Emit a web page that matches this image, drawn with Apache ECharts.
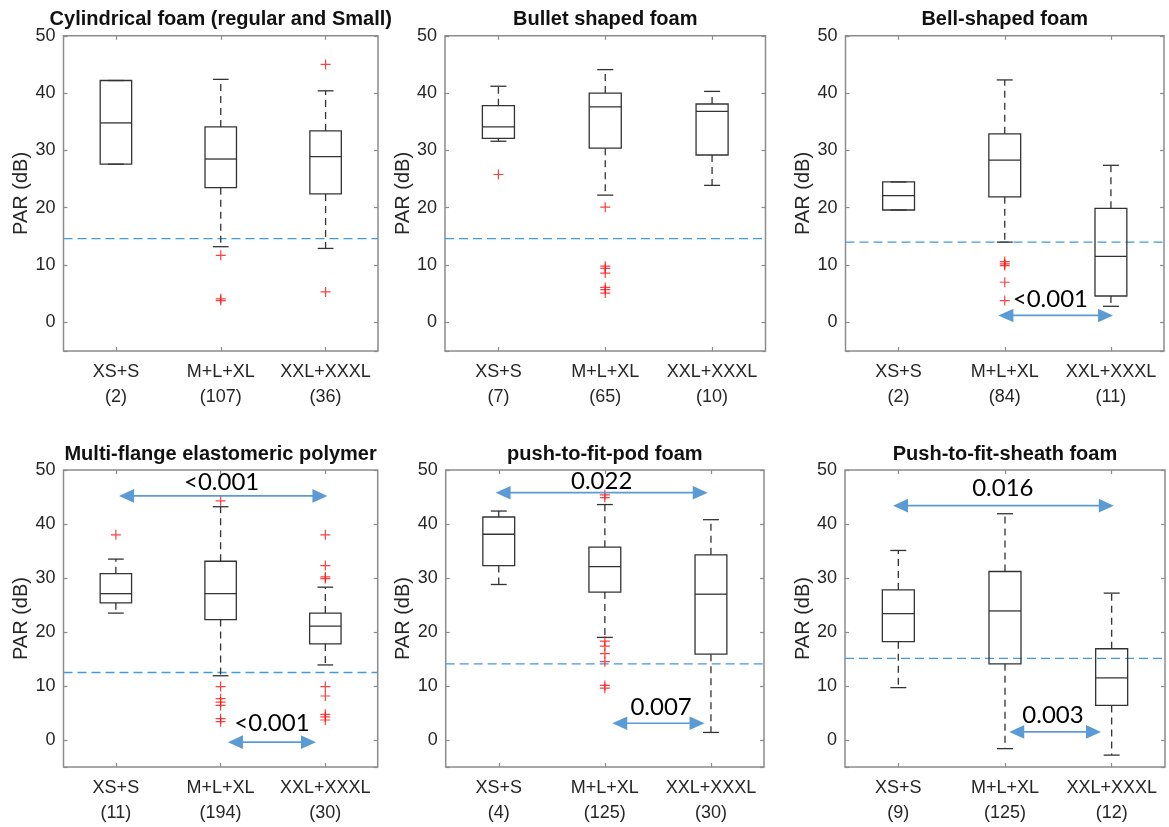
<!DOCTYPE html>
<html><head><meta charset="utf-8">
<script src="https://cdn.jsdelivr.net/npm/echarts@6/dist/echarts.min.js"></script>
<style>html,body{margin:0;padding:0;background:#fff}#c{width:1169px;height:827px}</style>
</head><body><div id="c"></div>
<script>
const categories = ['XS+S', 'M+L+XL', 'XXL+XXXL'];
const titles = ['Cylindrical foam (regular and Small)', 'Bullet shaped foam', 'Bell-shaped foam',
  'Multi-flange elastomeric polymer', 'push-to-fit-pod foam', 'Push-to-fit-sheath foam'];
const counts = [[2, 107, 36], [7, 65, 10], [2, 84, 11], [11, 194, 30], [4, 125, 30], [9, 125, 12]];

// [lower whisker, Q1, median, Q3, upper whisker] per category
const statsCyl = [[27.6, 27.6, 34.8, 42.2, 42.2], [13.2, 23.5, 28.5, 34.1, 42.4], [12.9, 22.4, 28.9, 33.4, 40.4]];
const statsBullet = [[31.6, 32.1, 34.1, 37.8, 41.2], [22.2, 30.4, 37.6, 40.0, 44.1], [23.9, 29.2, 36.8, 38.1, 40.3]];
const statsBell = [[19.6, 19.6, 22.1, 24.5, 24.5], [14.0, 21.9, 28.3, 32.9, 42.3], [2.8, 4.6, 11.5, 19.9, 27.4]];
const statsFlange = [[23.5, 25.4, 27.1, 30.8, 33.5], [11.9, 22.3, 27.1, 33.1, 43.2], [13.9, 17.8, 21.1, 23.5, 28.3]];
const statsPod = [[28.8, 32.3, 38.1, 41.3, 42.4], [19.0, 27.4, 32.1, 35.7, 43.6], [1.4, 15.9, 27.0, 34.3, 40.8]];
const statsSheath = [[9.7, 18.2, 23.4, 27.8, 35.1], [-1.6, 14.1, 23.9, 31.2, 41.9], [-2.8, 6.4, 11.5, 16.9, 27.2]];

const outCyl = [[], [11.7, 4.1, 3.8], [45.0, 5.3]];
const outBullet = [[25.8], [20.1, 9.8, 9.4, 8.6, 6.1, 5.7, 5.1], []];
const outBell = [[], [10.6, 10.2, 9.9, 7.0, 3.8], []];
const outFlange = [[38.0], [44.3, 9.9, 7.65, 7.0, 6.4, 3.95, 3.4], [38.0, 32.3, 30.2, 29.9, 9.9, 8.15, 4.75, 4.3, 3.7]];
const outPod = [[], [45.4, 44.9, 18.3, 17.4, 16.0, 14.5, 10.1, 9.6], []];
const outSheath = [[], [], []];

const refLines = [14.6, 14.6, 14.0, 12.5, 14.1, 15.1];

// arrows: [x start, x end, y] on a 0..3 axis where category i sits at i+0.5
const arrowSpans = [[], [], [[1.44, 2.52, 1.2]], [[0.53, 2.52, 45.2], [1.57, 2.41, -0.4]],
  [[0.47, 2.47, 45.8], [1.57, 2.44, 3.1]], [[0.45, 2.52, 43.4], [1.54, 2.40, 1.5]]];
const pValueText = [[], [], ['<0.001'], ['<0.001', '<0.001'], ['0.022', '0.007'], ['0.016', '0.003']];
const pValuePos = [[], [], [[1.93, 3.95]], [[1.51, 47.8], [1.99, 3.1]], [[1.47, 48.0], [2.03, 6.0]], [[1.48, 46.6], [1.95, 4.63]]];

const allStats = [statsCyl, statsBullet, statsBell, statsFlange, statsPod, statsSheath];
const allOut = [outCyl, outBullet, outBell, outFlange, outPod, outSheath];

const grids = [
  {left: 63.5, top: 35.8, width: 314.5, height: 315.2},
  {left: 445, top: 35.8, width: 320.5, height: 315.2},
  {left: 845.5, top: 35.8, width: 318.5, height: 315.2},
  {left: 63.5, top: 470, width: 314.2, height: 297},
  {left: 445.7, top: 470, width: 318.3, height: 297},
  {left: 845, top: 470, width: 320, height: 297}
];
const titleTop = [9, 9, 9, 444, 444, 444];

const FRAME = '#8c8c8c', INK = '#262626', BOXC = '#333333', BLUE = '#5b9bd5', REF = '#3f9ae0';
const FONT = 'Liberation Sans, Arial, sans-serif';

function boxRender(params, api) {
  const x = api.value(0);
  const v = [1, 2, 3, 4, 5].map(k => api.value(k));
  const p = v.map(val => api.coord([x, val]));
  const band = api.size([1, 0])[0];
  const bw = band * 0.3, cw = band * 0.15;
  const cx = p[0][0];
  const st = {stroke: BOXC, lineWidth: 1.3};
  const dash = {stroke: BOXC, lineWidth: 1.3, lineDash: [7, 5]};
  return {type: 'group', children: [
    {type: 'line', shape: {x1: cx, y1: p[3][1], x2: cx, y2: p[4][1]}, style: dash},
    {type: 'line', shape: {x1: cx, y1: p[1][1], x2: cx, y2: p[0][1]}, style: dash},
    {type: 'line', shape: {x1: cx - cw / 2, y1: p[4][1], x2: cx + cw / 2, y2: p[4][1]}, style: st},
    {type: 'line', shape: {x1: cx - cw / 2, y1: p[0][1], x2: cx + cw / 2, y2: p[0][1]}, style: st},
    {type: 'rect', shape: {x: cx - bw / 2, y: p[3][1], width: bw, height: p[1][1] - p[3][1]},
      style: {stroke: BOXC, lineWidth: 1.3, fill: 'rgba(0,0,0,0)'}},
    {type: 'line', shape: {x1: cx - bw / 2, y1: p[2][1], x2: cx + bw / 2, y2: p[2][1]}, style: st}
  ]};
}

function arrowRender(params, api) {
  const a = api.coord([api.value(0), api.value(2)]);
  const b = api.coord([api.value(1), api.value(2)]);
  const L = 15, H = 6.8;
  return {type: 'group', children: [
    {type: 'line', shape: {x1: a[0] + L - 1, y1: a[1], x2: b[0] - L + 1, y2: b[1]}, style: {stroke: BLUE, lineWidth: 1.7}},
    {type: 'polygon', shape: {points: [[a[0], a[1]], [a[0] + L, a[1] - H], [a[0] + L, a[1] + H]]}, style: {fill: BLUE}},
    {type: 'polygon', shape: {points: [[b[0], b[1]], [b[0] - L, b[1] - H], [b[0] - L, b[1] + H]]}, style: {fill: BLUE}}
  ]};
}

const PLUS = 'path://M4.4,0H5.6V4.4H10V5.6H5.6V10H4.4V5.6H0V4.4H4.4Z';

const option = {backgroundColor: '#fff', animation: false, title: [], grid: [], xAxis: [], yAxis: [], series: []};

grids.forEach((g, i) => {
  option.grid.push(Object.assign({show: true, borderColor: FRAME, borderWidth: 1.5, backgroundColor: 'transparent'}, g));
  option.title.push({
    text: titles[i], left: g.left + g.width / 2, top: titleTop[i], textAlign: 'center', padding: 0,
    textStyle: {fontFamily: FONT, fontSize: 20, fontWeight: 'bold', color: '#111'}
  });
  const catLabels = categories.map((c, j) => c + '\n(' + counts[i][j] + ')');
  const tick = {show: true, inside: true, alignWithLabel: true, length: 4, lineStyle: {color: FRAME, width: 1.2}};
  option.xAxis.push({
    type: 'category', gridIndex: i, data: catLabels, position: 'bottom',
    axisLine: {show: false, onZero: false}, splitLine: {show: false}, axisTick: tick,
    axisLabel: {fontFamily: FONT, fontSize: 18, color: INK, lineHeight: 25, margin: 9, interval: 0}
  });
  option.xAxis.push({
    type: 'category', gridIndex: i, data: catLabels, position: 'top',
    axisLine: {show: false, onZero: false}, axisLabel: {show: false}, axisTick: tick
  });
  option.xAxis.push({type: 'value', gridIndex: i, min: 0, max: 3, show: false});
  option.yAxis.push({
    type: 'value', gridIndex: i, min: -5, max: 50, splitNumber: 5, position: 'left',
    name: 'PAR (dB)', nameLocation: 'middle', nameGap: 30,
    nameTextStyle: {fontFamily: FONT, fontSize: 20, color: INK},
    axisLine: {show: false, onZero: false}, splitLine: {show: false},
    axisTick: {show: true, inside: true, length: 4, lineStyle: {color: FRAME, width: 1.2}},
    axisLabel: {fontFamily: FONT, fontSize: 18, color: INK, margin: 8, formatter: v => (v < 0 ? '' : String(v))}
  });
  option.yAxis.push({
    type: 'value', gridIndex: i, min: -5, max: 50, splitNumber: 5, position: 'right',
    axisLine: {show: false, onZero: false}, splitLine: {show: false}, axisLabel: {show: false},
    axisTick: {show: true, inside: true, length: 4, lineStyle: {color: FRAME, width: 1.2}}
  });

  const xb = 3 * i, xv = 3 * i + 2, yl = 2 * i;
  option.series.push({
    type: 'line', xAxisIndex: xv, yAxisIndex: yl, data: [[0, refLines[i]], [3, refLines[i]]],
    symbol: 'none', silent: true, z: 1,
    lineStyle: {color: REF, width: 1.3, type: [9, 5]}
  });
  option.series.push({
    type: 'custom', xAxisIndex: xb, yAxisIndex: yl, renderItem: boxRender, z: 3,
    encode: {x: 0, y: [1, 2, 3, 4, 5]},
    data: allStats[i].map((s, j) => [j].concat(s))
  });
  const outData = [];
  allOut[i].forEach((arr, j) => arr.forEach(v => outData.push([j, v])));
  option.series.push({
    type: 'scatter', xAxisIndex: xb, yAxisIndex: yl, data: outData, symbol: PLUS, symbolSize: 10,
    itemStyle: {color: '#ff1010'}, z: 4
  });
  if (arrowSpans[i].length) {
    option.series.push({
      type: 'custom', xAxisIndex: xv, yAxisIndex: yl, renderItem: arrowRender, z: 5,
      encode: {x: [0, 1], y: 2}, data: arrowSpans[i]
    });
    const texts = pValueText[i];
    option.series.push({
      type: 'custom', xAxisIndex: xv, yAxisIndex: yl, z: 6, encode: {x: 0, y: 1},
      data: pValuePos[i],
      renderItem: (params, api) => {
        const p = api.coord([api.value(0), api.value(1)]);
        return {type: 'text', x: p[0], y: p[1], style: {
          text: texts[params.dataIndex], fontFamily: 'Lato, Open Sans, sans-serif', fontSize: 24,
          fill: '#000', align: 'center', verticalAlign: 'middle'}};
      }
    });
  }
});

const chart = echarts.init(document.getElementById('c'), null, {renderer: 'canvas'});
chart.setOption(option);
</script></body></html>
